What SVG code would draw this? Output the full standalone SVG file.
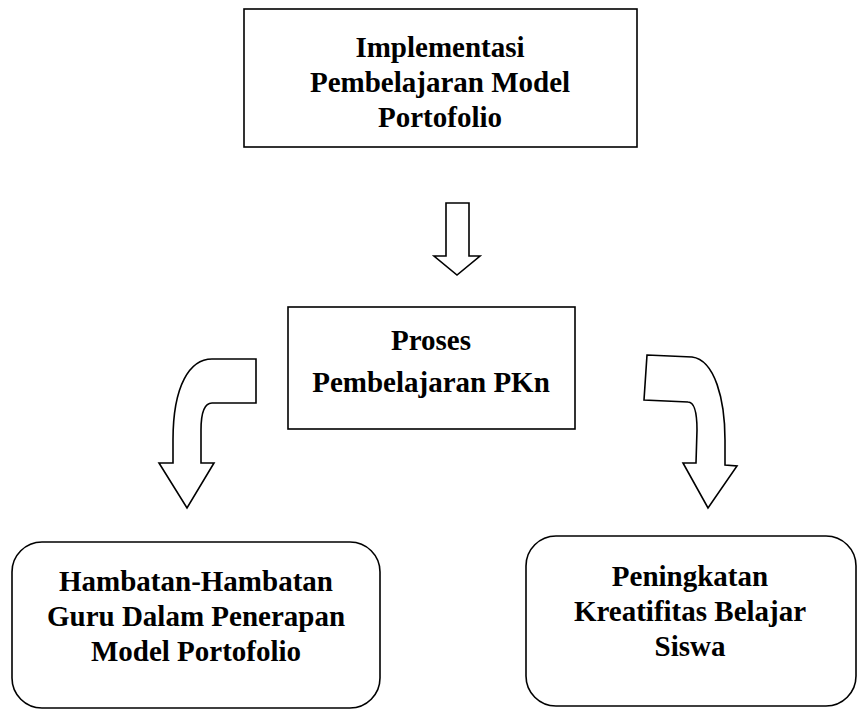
<svg xmlns="http://www.w3.org/2000/svg" width="858" height="709" viewBox="0 0 858 709">
<style>
.box{fill:#fff;stroke:#000;stroke-width:1.6}
.arr{fill:#fff;stroke:#000;stroke-width:1.6;stroke-linejoin:miter}
text{font-family:"Liberation Serif","Times New Roman",serif;font-weight:bold;font-size:29px;fill:#000;text-anchor:middle}
</style>
<rect width="858" height="709" fill="#fff"/>
<g id="node-implementasi">
<rect class="box" x="244" y="9" width="393" height="138"/>
<text x="440" y="57">Implementasi</text>
<text x="440" y="92">Pembelajaran Model</text>
<text x="440" y="127">Portofolio</text>
</g>
<g id="node-proses">
<rect class="box" x="288" y="307" width="287" height="122"/>
<text x="431" y="350">Proses</text>
<text x="431" y="392">Pembelajaran PKn</text>
</g>
<g id="node-hambatan">
<rect class="box" x="12" y="542" width="368" height="166" rx="30" ry="30"/>
<text x="196" y="591">Hambatan-Hambatan</text>
<text x="196" y="626">Guru Dalam Penerapan</text>
<text x="196" y="661">Model Portofolio</text>
</g>
<g id="node-peningkatan">
<rect class="box" x="526" y="536" width="330" height="170" rx="30" ry="30"/>
<text x="690" y="586">Peningkatan</text>
<text x="690" y="621">Kreatifitas Belajar</text>
<text x="690" y="656">Siswa</text>
</g>
<g id="connectors">
<path class="arr" d="M446,203 L469,203 L469,256 L480,256 L457,275 L434,256 L446,256 Z"/>
<path class="arr" d="M256,359 L212,359 C190,359 173,385 173,440 L173,463 L159,463 L187,508 L214,463 L201,463 L201,430 C201,410 205,403 212,403 L256,403 Z"/>
<path class="arr" d="M647,355 L692,357 C715,360 725,400 725,440 L725,465 L737,466 L708,508 L683,463 L696,463 L697,430 C697,410 694,402 688,402 L644,400 Z"/>
</g>
</svg>
